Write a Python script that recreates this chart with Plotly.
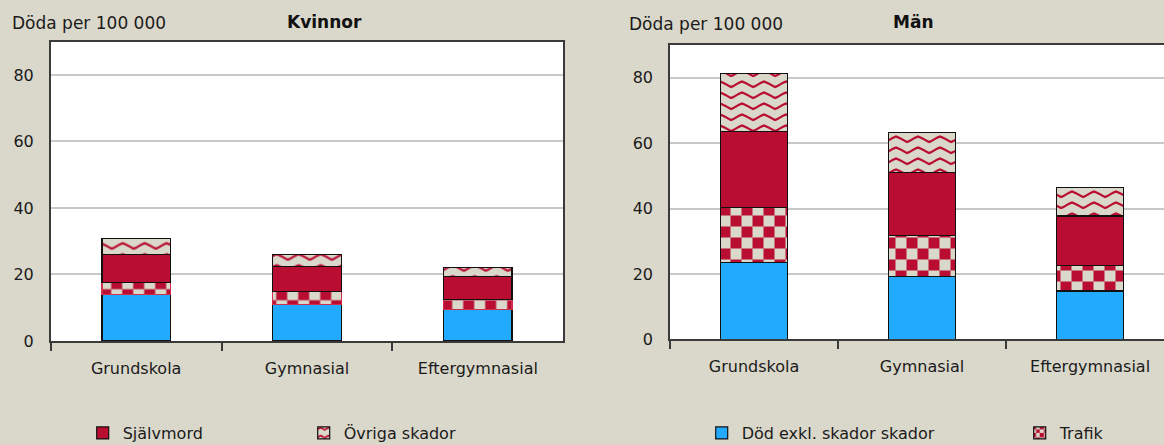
import plotly.graph_objects as go

# Utbildningsnivå
utbildning = ["Grundskola", "Gymnasial", "Eftergymnasial"]

# Döda per 100 000 – Kvinnor
kvinnor_dod_exkl = [14.0, 11.0, 9.5]
kvinnor_trafik = [3.6, 4.0, 3.0]
kvinnor_sjalvmord = [8.5, 7.5, 7.0]
kvinnor_ovriga = [4.8, 3.5, 2.7]

# Döda per 100 000 – Män
man_dod_exkl = [23.4, 19.1, 14.8]
man_trafik = [16.8, 12.6, 7.8]
man_sjalvmord = [23.3, 19.3, 15.1]
man_ovriga = [17.8, 12.3, 8.7]

y_ticks = [0, 20, 40, 60, 80]

W, H = 1164, 445
RED = "#b90e31"
BLUE = "#22aaff"
BEIGE = "#dad8cb"
FONT = "DejaVu Sans"


def px_x(p):
    return p / W


def px_y(p):
    return 1 - p / H


# custom 22 px tiles; phase chosen so the small legend swatch also shows the motif
CHECK_PATH = (
    "M5.5,5.5H16.5V16.5H5.5Z "
    "M0,0H5.5V5.5H0Z M16.5,0H22V5.5H16.5Z "
    "M0,16.5H5.5V22H0Z M16.5,16.5H22V22H16.5Z"
)
WAVE_PATH = (
    "M0,5.3L3,3.6L6,2.2L9,3.4L12,5L15,6.8L17,7.8L19.5,6.8L22,5.3"
    "L22,7.8L19.5,9.3L17,10.3L15,9.3L12,7.5L9,5.9L6,4.7L3,6.1L0,7.8Z "
    "M0,16.3L3,14.6L6,13.2L9,14.4L12,16L15,17.8L17,18.8L19.5,17.8L22,16.3"
    "L22,18.8L19.5,20.3L17,21.3L15,20.3L12,18.5L9,16.9L6,15.7L3,17.1L0,18.8Z"
)

series = [
    ("Död exkl. skador skador", "legend2", dict(color=BLUE)),
    ("Trafik", "legend2", dict(color=BEIGE, pattern=dict(path=CHECK_PATH, size=22,
                                                         fgcolor=RED, bgcolor=BEIGE,
                                                         fillmode="replace"))),
    ("Självmord", "legend", dict(color=RED)),
    ("Övriga skador", "legend", dict(color=BEIGE, pattern=dict(path=WAVE_PATH, size=22,
                                                              fgcolor=RED, bgcolor=BEIGE,
                                                              fillmode="replace"))),
]

kvinnor = [kvinnor_dod_exkl, kvinnor_trafik, kvinnor_sjalvmord, kvinnor_ovriga]
man = [man_dod_exkl, man_trafik, man_sjalvmord, man_ovriga]

fig = go.Figure()

for (name, leg, marker), vals in zip(series, kvinnor):
    line_color = "#d03050" if name == "Trafik" else "#111111"
    fig.add_trace(go.Bar(
        x=utbildning, y=vals, name=name, xaxis="x", yaxis="y",
        width=0.4, showlegend=False, legendgroup=name,
        marker=dict(**marker, line=dict(color=line_color, width=1.2)),
        hoverinfo="x+y+name",
    ))

for (name, leg, marker), vals in zip(series, man):
    fig.add_trace(go.Bar(
        x=utbildning, y=vals, name=name, xaxis="x2", yaxis="y2",
        width=0.4, showlegend=True, legendgroup=name, legend=leg,
        marker=dict(**marker, line=dict(color="#111111", width=1.2)),
        hoverinfo="x+y+name",
    ))

axis_font = dict(family=FONT, size=16, color="#1a1a1a")

xaxis_common = dict(
    type="category", showline=True, linecolor="#3a3a3a", linewidth=1.5, mirror=True,
    ticks="outside", tickson="boundaries", ticklen=8, tickcolor="#3a3a3a", tickwidth=1.5,
    showgrid=False, tickfont=axis_font, ticklabelstandoff=12, fixedrange=True,
    tickangle=0, automargin=False,
)
yaxis_common = dict(
    range=[0, 90], tickvals=y_ticks, showline=True, linecolor="#3a3a3a", linewidth=1.5,
    ticks="", showgrid=True, gridcolor="#c8c8c8", gridwidth=1.5,
    zeroline=False, tickfont=axis_font, ticklabelstandoff=12, fixedrange=True,
    automargin=False,
)

legend_common = dict(
    orientation="h", xanchor="left", yanchor="middle", y=px_y(433),
    xref="container", yref="container",
    bgcolor="rgba(0,0,0,0)", entrywidthmode="pixels",
    font=dict(family=FONT, size=16, color="#1a1a1a"), traceorder="normal",
)

fig.update_layout(
    width=W, height=H, autosize=False,
    margin=dict(l=0, r=0, t=0, b=0, autoexpand=False),
    paper_bgcolor=BEIGE, plot_bgcolor="white",
    barmode="stack", bargap=0.6,
    xaxis=dict(**xaxis_common, domain=[px_x(50.7), px_x(563.3)], range=[-0.5, 2.5],
               anchor="y"),
    yaxis=dict(**yaxis_common, mirror=True, domain=[px_y(341), px_y(41.7)], anchor="x"),
    xaxis2=dict(**xaxis_common, domain=[px_x(670), 1.0], range=[-0.5, 2.44],
                anchor="y2"),
    # the right-hand panel runs past the page edge, so no right border line
    yaxis2=dict(**yaxis_common, mirror=False, domain=[px_y(339.3), px_y(45)], anchor="x2"),
    legend=dict(**legend_common, x=px_x(82.7), entrywidth=176),
    legend2=dict(**legend_common, x=px_x(701.7), entrywidth=273),
    annotations=[
        dict(text="Döda per 100 000", x=px_x(10), y=px_y(22.7), xref="paper", yref="paper",
             xanchor="left", yanchor="middle", showarrow=False,
             font=dict(family=FONT, size=17, color="#1a1a1a")),
        dict(text="<b>Kvinnor</b>", x=px_x(324.5), y=px_y(22), xref="paper", yref="paper",
             xanchor="center", yanchor="middle", showarrow=False,
             font=dict(family=FONT, size=17, color="#111111")),
        dict(text="Döda per 100 000", x=px_x(627.3), y=px_y(24), xref="paper", yref="paper",
             xanchor="left", yanchor="middle", showarrow=False,
             font=dict(family=FONT, size=17, color="#1a1a1a")),
        dict(text="<b>Män</b>", x=px_x(913.7), y=px_y(21.7), xref="paper", yref="paper",
             xanchor="center", yanchor="middle", showarrow=False,
             font=dict(family=FONT, size=17, color="#111111")),
    ],
)

fig.write_html("out.html")
